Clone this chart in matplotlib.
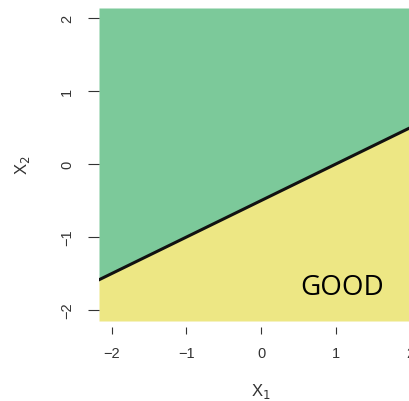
import numpy as np
import matplotlib.pyplot as plt

# decision boundary x2 = b0 + b1 * x1
intercept = -0.5
slope = 0.5

x_range = [-2.17, 2.17]
y_range = [-2.15, 2.14]
ticks = [-2, -1, 0, 1, 2]
tick_labels = ["\u22122", "\u22121", "0", "1", "2"]
region_label = "GOOD"
label_pos = (1.08, -1.68)

green = "#7cc99a"
yellow = "#ede784"

plt.rcParams["font.family"] = ["Liberation Sans", "DejaVu Sans"]

fig = plt.figure(figsize=(4.09, 4.02), dpi=100)
ax = fig.add_axes([99 / 409, 80 / 402, 324 / 409, 313 / 402])

x1 = np.array(x_range)
x2 = intercept + slope * x1

# regions on either side of the boundary
ax.fill_between(x1, x2, y_range[1], color=green, lw=0)
ax.fill_between(x1, y_range[0], x2, color=yellow, lw=0)
ax.plot(x1, x2, color="#111111", lw=2.2)

ax.text(*label_pos, region_label, fontsize=20, family=["Open Sans", "DejaVu Sans"],
        ha="center", va="center", color="black")

ax.set_xlim(x_range)
ax.set_ylim(y_range)

for s in ["top", "right"]:
    ax.spines[s].set_visible(False)
ax.spines["left"].set_color("none")
ax.spines["bottom"].set_color("none")
ax.spines["bottom"].set_position(("outward", 4))

ax.set_xticks(ticks)
ax.set_xticklabels(tick_labels)
ax.set_yticks(ticks)
ax.set_yticklabels(tick_labels, rotation=90, va="center")
ax.tick_params(direction="out", width=0.8, color="#333333",
               labelcolor="#333333", labelsize=10.5)
ax.tick_params(axis="x", length=5, pad=9)
ax.tick_params(axis="y", length=8, pad=10)

ax.set_xlabel("X$_1$", fontsize=12, color="#333333", labelpad=15)
ax.set_ylabel("X$_2$", fontsize=12, color="#333333", labelpad=20)

fig.savefig("out.png", dpi=100)
